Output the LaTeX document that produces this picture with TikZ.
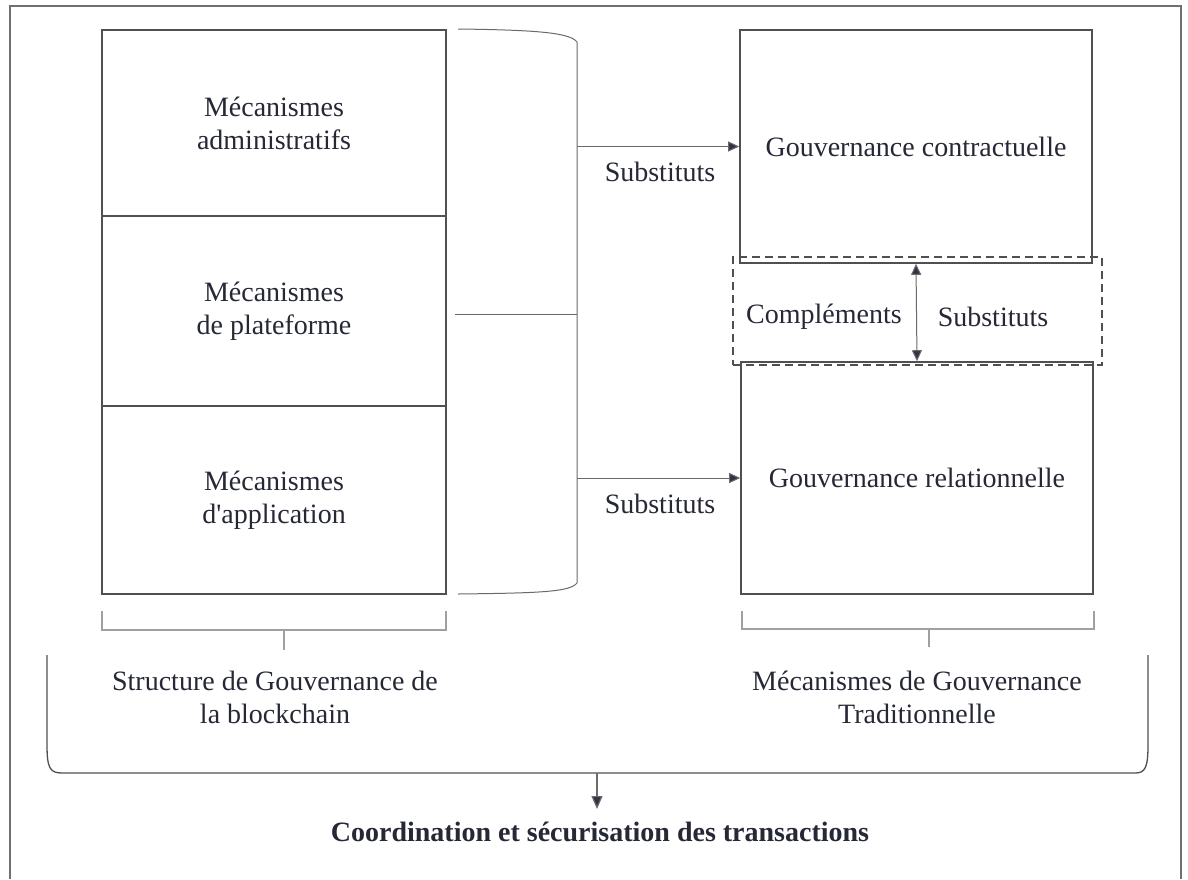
\documentclass[tikz,border=0pt]{standalone}
\usepackage{fontspec}
\setmainfont{Liberation Serif}[Ligatures=TeXOff]
\usetikzlibrary{arrows.meta}
\definecolor{txt}{HTML}{262836}
\definecolor{boxc}{HTML}{505050}
\definecolor{thin}{HTML}{6A6A6A}
\definecolor{brk}{HTML}{A0A0A0}
\definecolor{framec}{HTML}{707070}
\definecolor{tipc}{HTML}{2F3545}
\tikzset{
  boxn/.style={draw=boxc, line width=1.6pt, align=center, text=txt, inner sep=0pt,
    font=\fontsize{28}{33}\selectfont},
  lbl/.style={text=txt, align=center, inner sep=0pt, font=\fontsize{28}{33}\selectfont},
  brkline/.style={draw=brk, line width=1.3pt},
  conn/.style={draw=thin, line width=1pt},
  arr/.style={conn, -{Triangle[length=11pt,width=10pt,fill=tipc]}},
  darr/.style={conn, {Triangle[length=11pt,width=10pt,fill=tipc]}-{Triangle[length=11pt,width=10pt,fill=tipc]}},
}
\begin{document}
\begin{tikzpicture}[x=1pt,y=-1pt]
\useasboundingbox (0,0) rectangle (1188,879);
\fill[white] (0,0) rectangle (1188,879);
% outer frame
\draw[framec, line width=1.5pt] (10,879) -- (10,6) -- (1181,6) -- (1181,879);

% left boxes
\node[boxn, minimum width=344pt, minimum height=186pt] (l1) at (274,123) {Mécanismes\\administratifs};
\node[boxn, minimum width=344pt, minimum height=190pt] (l2) at (274,311) {Mécanismes\\de plateforme};
\node[boxn, minimum width=344pt, minimum height=188pt] (l3) at (274,500) {Mécanismes\\d'application};

% right boxes
\node[boxn, minimum width=352pt, minimum height=233pt] (r1) at (916,146.5) {Gouvernance contractuelle};
\node[boxn, minimum width=352pt, minimum height=232pt] (r2) at (917,478) {Gouvernance relationnelle};
\node[draw=boxc, dashed, dash pattern=on 8pt off 5pt, line width=1.3pt, minimum width=369pt, minimum height=108pt, inner sep=0pt] (db) at (917.5,311) {};

% brace to the right of left boxes
\coordinate (bt) at (458,29);
\coordinate (bb) at (458,594);
\coordinate (bm) at (455,314);
\coordinate (b1) at (577,146.5);
\coordinate (b2) at (577,478);
\draw[conn] (bt) .. controls (540,30) and (570,33) .. (577,42) -- (577,583) .. controls (570,592) and (540,593) .. (bb);
\draw[conn] (bm) -- (577,314);

% arrows to right boxes
\draw[arr] (b1) -- (r1.west);
\draw[arr] (b2) -- (r2.west);
\node[lbl] (s1) at (660,172) {Substituts};
\node[lbl] (s2) at (660,504) {Substituts};

% double arrow
\draw[darr] (r1.south) -- (r2.north);
\node[lbl] (cp) at (824,317) {Compléments};
\node[lbl] (s3) at (993,317) {Substituts};

% brackets under columns
\draw[brkline] (102,611) -- (102,630) -- (446,630) -- (446,611);
\draw[brkline] (284,630) -- (284,650);
\draw[brkline] (742,611) -- (742,629) -- (1094,629) -- (1094,611);
\draw[brkline] (929,629) -- (929,647);

\node[lbl] (tl) at (275,697) {Structure de Gouvernance de\\la blockchain};
\node[lbl] (tr) at (917,697) {Mécanismes de Gouvernance\\Traditionnelle};

% big brace
\coordinate (bg) at (597,773);
\draw[conn, draw=boxc, line width=1.3pt] (47,655) -- (47,745) .. controls (47,768) and (50,773) .. (62,773) -- (1135,773) .. controls (1145,773) and (1148,768) .. (1148,745) -- (1148,655);
\coordinate (ctop) at (597,809);
\draw[conn, line width=1.2pt, -{Triangle[length=13pt,width=11pt,fill=tipc]}] (bg) -- (ctop);
\node[text=txt, inner sep=0pt, font=\fontsize{28}{33}\selectfont\bfseries] (ct) at (600,832) {Coordination et sécurisation des transactions};
\end{tikzpicture}
\end{document}
